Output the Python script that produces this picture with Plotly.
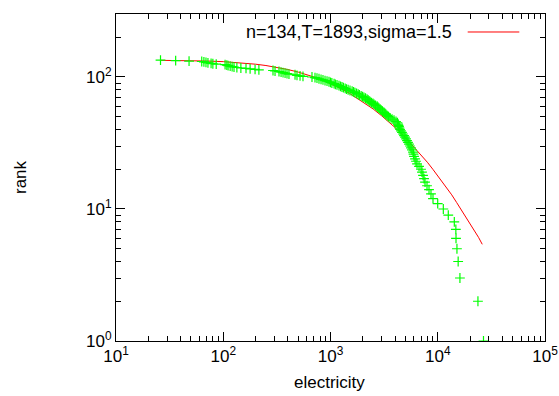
import plotly.graph_objects as go

# Observed data: rank (1..134) vs electricity
rank = list(range(1, 135))
electricity = [
    26700, 23700, 16100, 15500, 15100, 14800, 14750, 14270, 12540, 11270,
    9990, 9030, 8650, 8290, 7940, 7610, 7450, 7290, 7130, 6980,
    6690, 6410, 6270, 6140, 6010, 5940, 5880, 5750, 5630, 5510,
    5390, 5280, 5170, 5060, 4950, 4850, 4740, 4640, 4540, 4450,
    4400, 4350, 4310, 4260, 4210, 4080, 3910, 3750, 3590, 3470,
    3370, 3290, 3220, 3150, 3050, 2960, 2900, 2830, 2770, 2720,
    2630, 2550, 2490, 2410, 2340, 2290, 2240, 2190, 2120, 2050,
    1990, 1930, 1860, 1810, 1750, 1690, 1640, 1590, 1520, 1460,
    1410, 1370, 1320, 1280, 1240, 1200, 1150, 1110, 1080, 1030,
    1000, 968, 928, 889, 851, 816, 781, 748, 717, 672,
    554, 520, 487, 467, 410, 393, 377, 361, 346, 331,
    304, 291, 215, 198, 178, 163, 146, 134, 126, 121,
    116, 111, 108, 104, 86, 80, 77, 72, 69, 66,
    63, 48, 36, 26,
]

# Fitted curve (n=134, T=1893, sigma=1.5)
fit_x = [26, 30, 40, 50, 70, 100, 120, 150, 200, 250, 300, 400, 500, 600, 700,
         850, 1000, 1250, 1500, 2000, 2500, 3000, 3500, 4000, 5000, 6000, 7000,
         8000, 9000, 10000, 12000, 13500, 15000, 18000, 21000, 24000, 26000]
fit_y = [133.7, 133.6, 133.3, 133.0, 132.1, 130.7, 129.6, 127.9, 125.0, 122.1,
         119.3, 113.9, 108.9, 104.3, 100.0, 94.2, 89.1, 81.6, 75.3, 65.0, 57.2,
         50.8, 45.7, 41.4, 34.7, 29.6, 25.7, 22.6, 20.0, 17.9, 14.6, 12.8, 11.2,
         8.9, 7.3, 6.1, 5.4]

legend_label = "n=134,T=1893,sigma=1.5"
x_title = "electricity"
y_title = "rank"

x_major = [10, 100, 1000, 10000, 100000]
x_major_text = ["10<sup>1</sup>", "10<sup>2</sup>", "10<sup>3</sup>", "10<sup>4</sup>", "10<sup>5</sup>"]
y_major = [1, 10, 100]
y_major_text = ["10<sup>0</sup>", "10<sup>1</sup>", "10<sup>2</sup>"]
x_minor = [m * d for d in (10, 100, 1000, 10000) for m in range(2, 10)]
y_minor = [m * d for d in (1, 10) for m in range(2, 10)] + [200]

FONT = "Liberation Sans, Arial, sans-serif"

fig = go.Figure()
fig.add_trace(go.Scatter(
    x=fit_x, y=fit_y, mode="lines",
    line=dict(color="#ff0000", width=1),
    showlegend=False, name=legend_label,
))
fig.add_trace(go.Scatter(
    x=electricity, y=rank, mode="markers",
    marker=dict(symbol="cross-thin", size=7, color="#00ff00",
                line=dict(color="#00ff00", width=1.2)),
    showlegend=False,
))

axis_common = dict(
    showline=True, linecolor="black", linewidth=1, mirror="allticks",
    ticks="inside", ticklen=9, tickcolor="black", tickwidth=1,
    showgrid=False, zeroline=False,
    tickfont=dict(family=FONT, size=17, color="black"),
    automargin=False,
)

fig.update_xaxes(
    type="log", range=[1, 5],
    tickmode="array", tickvals=x_major, ticktext=x_major_text,
    minor=dict(ticks="inside", ticklen=5, tickcolor="black", tickwidth=1,
               tickmode="array", tickvals=x_minor, showgrid=False),
    **axis_common,
)
fig.update_yaxes(
    type="log", range=[0, 2.4771],
    tickmode="array", tickvals=y_major, ticktext=y_major_text,
    minor=dict(ticks="inside", ticklen=5, tickcolor="black", tickwidth=1,
               tickmode="array", tickvals=y_minor, showgrid=False),
    **axis_common,
)

fig.update_layout(
    width=559, height=396, autosize=False,
    margin=dict(l=116, r=14, t=14, b=55, pad=0),
    paper_bgcolor="white", plot_bgcolor="white",
    font=dict(family=FONT, size=16, color="black"),
    showlegend=False,
    annotations=[
        dict(text=legend_label, xref="paper", yref="paper", x=0.7886, y=0.945,
             xanchor="right", yanchor="middle", showarrow=False,
             font=dict(family=FONT, size=18, color="black")),
        dict(text=x_title, xref="paper", yref="paper", x=0.4988, y=-0.1284,
             xanchor="center", yanchor="middle", showarrow=False,
             font=dict(family=FONT, size=17, color="black")),
        dict(text=y_title, xref="paper", yref="paper", x=-0.2238, y=0.5015,
             xanchor="center", yanchor="middle", showarrow=False, textangle=-90,
             font=dict(family=FONT, size=17, color="black")),
    ],
    shapes=[
        dict(type="line", xref="paper", yref="paper", x0=0.8198, x1=0.9401,
             y0=0.945, y1=0.945, line=dict(color="#ff0000", width=1)),
    ],
)

fig.write_html("out.html", config={"responsive": False})
